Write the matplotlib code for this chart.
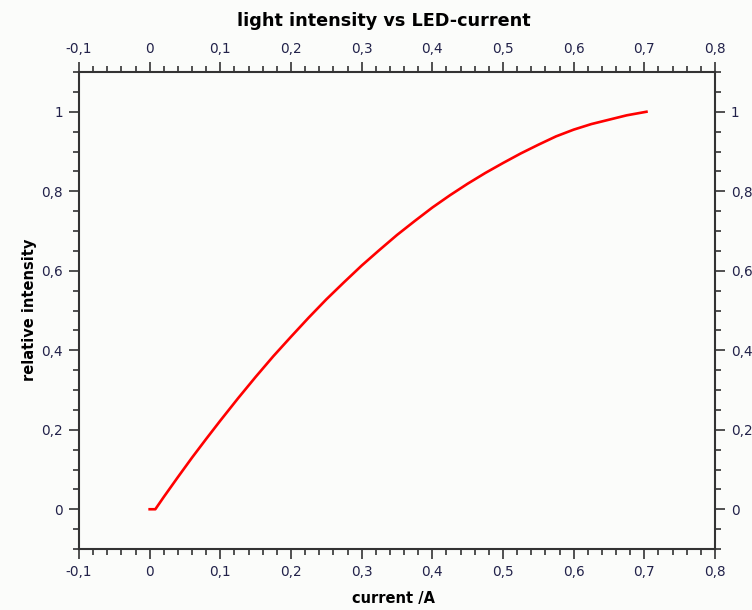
import numpy as np
import matplotlib.pyplot as plt
from matplotlib.ticker import MultipleLocator, FuncFormatter

# Data
current = [0.0, 0.008, 0.02, 0.04, 0.06, 0.08, 0.1, 0.125, 0.15, 0.175, 0.2, 0.225,
           0.25, 0.275, 0.3, 0.325, 0.35, 0.375, 0.4, 0.425, 0.45, 0.475, 0.5,
           0.525, 0.55, 0.575, 0.6, 0.625, 0.65, 0.675, 0.703]
intensity = [0.0, 0.0, 0.031, 0.081, 0.130, 0.177, 0.223, 0.279, 0.333, 0.385, 0.434,
             0.482, 0.528, 0.571, 0.613, 0.652, 0.690, 0.725, 0.759, 0.790, 0.819,
             0.846, 0.871, 0.895, 0.917, 0.938, 0.955, 0.969, 0.980, 0.991, 1.0]

bg = '#fbfcfa'
tick_color = '#333333'
label_color = '#22224a'


def comma_fmt(v, pos):
    s = '%g' % round(v, 3)
    return s.replace('.', ',')


fig = plt.figure(figsize=(7.52, 6.1), dpi=100, facecolor=bg)
ax = fig.add_axes([79 / 752, 61 / 610, 636 / 752, 477 / 610], facecolor=bg)

ax.plot(current, intensity, color='red', lw=1.9, solid_joinstyle='round')

ax.set_xlim(-0.1, 0.8)
ax.set_ylim(-0.1, 1.1)

ax.xaxis.set_major_locator(MultipleLocator(0.1))
ax.xaxis.set_minor_locator(MultipleLocator(0.02))
ax.yaxis.set_major_locator(MultipleLocator(0.2))
ax.yaxis.set_minor_locator(MultipleLocator(0.05))
ax.xaxis.set_major_formatter(FuncFormatter(comma_fmt))
ax.yaxis.set_major_formatter(FuncFormatter(comma_fmt))

for s in ax.spines.values():
    s.set_color(tick_color)
    s.set_linewidth(1.5)

ax.tick_params(which='both', direction='out', color=tick_color, width=1.2,
               top=True, right=True, labeltop=True, labelright=True,
               labelsize=9.8, labelcolor=label_color)
ax.tick_params(which='major', length=7.5, pad=4)
ax.tick_params(which='minor', length=4.3)

fig.text(384 / 752, 1 - 21 / 610, 'light intensity vs LED-current',
         ha='center', va='center', fontsize=12.7, fontweight='bold')
fig.text(393 / 752, 1 - 598 / 610, 'current /A', ha='center', va='center',
         fontsize=10.5, fontweight='bold')
fig.text(30 / 752, 1 - 310 / 610, 'relative intensity', ha='center', va='center',
         rotation=90, fontsize=10.5, fontweight='bold')

fig.savefig('out.png', dpi=100, facecolor=bg)
